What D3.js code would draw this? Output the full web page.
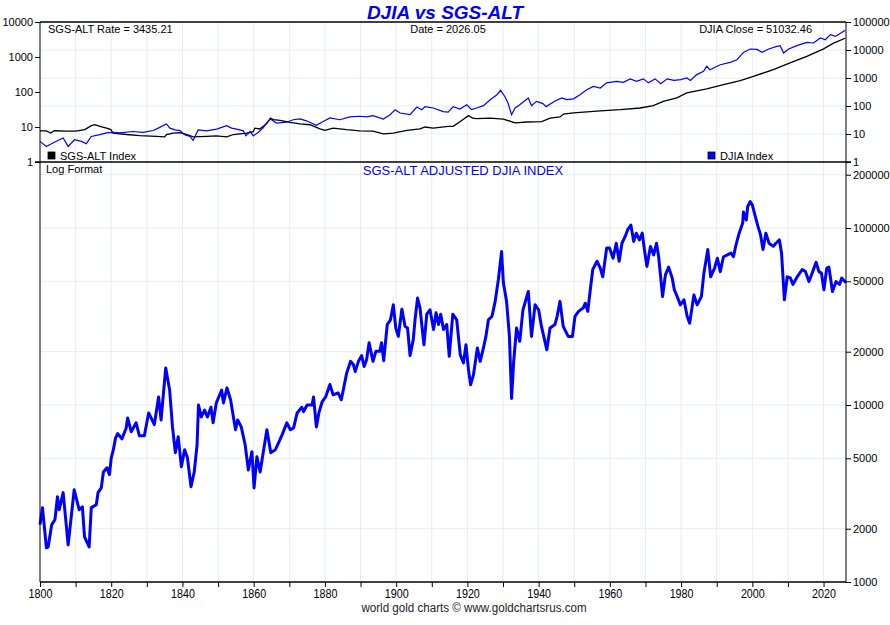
<!DOCTYPE html>
<html>
<head>
<meta charset="utf-8">
<script src="https://cdn.jsdelivr.net/npm/d3@7"></script>
<style>
    body { margin: 0; background: #fff; }
    svg { display: block; font-family: "Liberation Sans", Arial, sans-serif; }
    .axis text { font-size: 11px; fill: #000; }
    .axis path, .axis line { stroke: #000; }
    .xaxis text { font-size: 12.5px; }
</style>
</head>
<body>
<div id="chart"></div>
<script>
// SGS-ALT index (top panel, left axis)
const sgsAlt = [
    [1800, 7.8], [1801.8, 7.7], [1803, 6.7], [1804, 7.8], [1807.4, 7.6], [1810, 7.6], [1812.6, 8.4],
    [1814.4, 10.9], [1815.4, 11.6], [1816.8, 10.4], [1818.7, 9.3], [1819.9, 8.4], [1820.5, 6.7],
    [1824.3, 6.1], [1828, 5.7], [1832.7, 5.4], [1835, 5.2], [1835.5, 6.1], [1837.4, 6.7], [1839.3, 6.9],
    [1841.3, 6.1], [1843, 5.2], [1846.8, 5.4], [1849.5, 5.6], [1852.4, 5.2], [1854.3, 6.1], [1858, 6.7],
    [1859.9, 7.4], [1860.3, 9.3], [1861.7, 8.8], [1862.6, 10.4], [1863.6, 12.3], [1864.7, 18],
    [1865.5, 16.2], [1867.4, 15.4], [1870.2, 13.5], [1873, 12.3], [1875.8, 11.6], [1878.6, 8.8],
    [1880, 8.0], [1882.3, 9.3], [1886.1, 8.4], [1889.8, 7.8], [1893.5, 7.6], [1896.4, 6.4], [1899.2, 6.7],
    [1903, 8.0], [1906.7, 8.8], [1908.1, 10], [1910.4, 9.3], [1914.6, 10.4], [1916, 10.4], [1917.9, 14.2],
    [1920.3, 21.1], [1921.5, 17.8], [1922.6, 17.3], [1926.4, 18], [1930.1, 16.9], [1933.4, 13.1],
    [1936.7, 13.9], [1940.9, 14.2], [1943.2, 18], [1946, 19.4], [1947, 23.5], [1949.8, 25.3],
    [1951.7, 26.2], [1957.3, 29], [1962.9, 31.3], [1968.5, 34.9], [1972.2, 40.8], [1975, 54.2],
    [1978.8, 67.7], [1981.6, 94], [1987.2, 122], [1991.9, 162], [1996.6, 210], [2000.3, 280],
    [2005.9, 434], [2010.6, 675], [2015.3, 1040], [2020, 1700], [2022.8, 2500], [2026.05, 3435]
];

// DJIA index (top panel, right axis)
const djia = [
    [1800, 5.45], [1801.8, 3.6], [1803.6, 4.8], [1806.5, 7.2], [1807.9, 3.6], [1809.7, 6.25], [1811.6, 5.45],
    [1813, 4.5], [1814.4, 8.2], [1816.8, 9.5], [1818.7, 10.9], [1820.5, 11.5], [1822.4, 10.9], [1826.1, 12.3],
    [1828.9, 11.5], [1831.8, 13.3], [1833.2, 16.2], [1835.5, 22.9], [1836.5, 16.2], [1837.9, 14], [1839.3, 13.3],
    [1840.6, 9.5], [1842.1, 8.2], [1843, 5.9], [1844.4, 14], [1846.8, 13], [1849.6, 15], [1852.4, 19.7],
    [1853.8, 16.2], [1855.2, 15], [1857.1, 13], [1857.8, 8.6], [1859, 12.3], [1859.9, 8.6], [1861.3, 11.5],
    [1862.6, 16.2], [1863.6, 24.6], [1864.7, 34.4], [1866.4, 24.6], [1869.2, 26.4], [1871.1, 32.3],
    [1873, 34.4], [1874.8, 29.6], [1877.6, 20.6], [1879.5, 28], [1881.4, 37.3], [1884.2, 32.3], [1887, 40.6],
    [1889.8, 43], [1891.7, 40.6], [1893.5, 45.5], [1896.4, 34.4], [1898.3, 49], [1899.7, 74], [1901.1, 56],
    [1903.9, 49], [1905.8, 92], [1907.2, 74], [1908.1, 95], [1910.4, 85], [1913.2, 63], [1914.6, 60],
    [1916, 95], [1917.9, 78], [1919.8, 111], [1921.2, 74], [1922.6, 85], [1924.5, 103], [1926.4, 168],
    [1928.3, 253], [1929.3, 362], [1930.5, 219], [1931.4, 127], [1932.4, 49], [1933.4, 85], [1934.7, 111],
    [1937.1, 194], [1938, 103], [1939.4, 147], [1941.2, 122], [1942.1, 95], [1944.5, 147], [1946.5, 194],
    [1947.9, 168], [1949.8, 180], [1951.6, 253], [1953.5, 383], [1955.4, 502], [1957.3, 440], [1959.1, 670],
    [1961.9, 756], [1963.8, 700], [1965.7, 930], [1967.5, 756], [1969.4, 930], [1970.8, 670], [1972.7, 930],
    [1974.3, 630], [1976.1, 930], [1978, 820], [1979.9, 870], [1981.6, 1000], [1982.6, 810], [1984.4, 1320],
    [1986.3, 1730], [1987.2, 2610], [1988.1, 1980], [1991, 2970], [1993.8, 3600], [1995.7, 4500],
    [1997.5, 8220], [1999.4, 10860], [2001.3, 10500], [2002.7, 8220], [2004.6, 10860], [2006.9, 13470],
    [2007.8, 14300], [2008.8, 7800], [2010.2, 10860], [2012.5, 14300], [2015.3, 18700], [2017.2, 17800],
    [2019.1, 26800], [2020.5, 23300], [2021.9, 35200], [2023.3, 30600], [2025.1, 42500], [2026.05, 51000]
];

// SGS-ALT adjusted DJIA (bottom panel)
const adjusted = [
    [1800, 2110], [1800.7, 2630], [1801.8, 1560], [1802.3, 1580], [1803.3, 2110], [1804.2, 2250],
    [1804.9, 3030], [1805.4, 2560], [1806.5, 3200], [1807.9, 1620], [1809.6, 3320], [1811, 2560],
    [1811.9, 2660], [1812.5, 1800], [1813.8, 1580], [1814.4, 2630], [1815.8, 2730], [1816.3, 3200],
    [1817.2, 3400], [1817.8, 4180], [1818.8, 4420], [1819.5, 4040], [1820, 5030], [1820.6, 5590],
    [1821.2, 6500], [1821.8, 6890], [1823, 6440], [1824.2, 7420], [1824.6, 8450], [1825.6, 7070],
    [1827, 7930], [1827.9, 6700], [1829.3, 6700], [1830.5, 9020], [1831.2, 8450], [1832.1, 7750],
    [1833.3, 11100], [1834, 8230], [1835.3, 16200], [1836.4, 12150], [1837.2, 7520], [1838, 5380],
    [1838.8, 6610], [1839.7, 4480], [1840.6, 5590], [1841.4, 5030], [1842.4, 3450], [1843.3, 4180],
    [1844.1, 5960], [1844.5, 10000], [1845.3, 8560], [1846.2, 9360], [1847, 8560], [1848, 9710],
    [1848.6, 7930], [1849.5, 10260], [1851, 12150], [1851.5, 10260], [1852.5, 12500], [1853.5, 10700],
    [1854.9, 7250], [1855.5, 8230], [1856.5, 7520], [1857.6, 5960], [1858.5, 4290], [1859.5, 5450],
    [1860.1, 3400], [1860.9, 5100], [1861.8, 4180], [1862.8, 5590], [1863.7, 7250], [1864.8, 5380],
    [1866.1, 5590], [1867, 6130], [1868, 6800], [1869.3, 7930], [1870.3, 7250], [1871.2, 7420],
    [1872.2, 9020], [1873.5, 9710], [1874, 9180], [1875, 10000], [1876.4, 10000], [1876.8, 11100],
    [1877.6, 7520], [1878.3, 9020], [1879.2, 10400], [1880.2, 11100], [1881.4, 13050], [1882.3, 11400],
    [1883.7, 11700], [1884.6, 10700], [1886.1, 15130], [1887.2, 17650], [1888, 16900], [1888.5, 15430],
    [1889.4, 17650], [1890.3, 19000], [1891, 16500], [1891.7, 18000], [1892.4, 22450], [1893.5, 17650],
    [1894.3, 20100], [1895.4, 20100], [1895.9, 22450], [1896.5, 17800], [1897.5, 28500], [1898.4, 30300],
    [1899.2, 36800], [1899.9, 27200], [1900.6, 24400], [1901.6, 34800], [1902.5, 27800], [1903.2, 27200],
    [1903.9, 19000], [1904.8, 23400], [1905.3, 30300], [1906, 40200], [1906.7, 35300], [1907.8, 21900],
    [1908.6, 32600], [1909.5, 34500], [1910.5, 26700], [1911.2, 33200], [1911.9, 28500], [1912.5, 32600],
    [1913.3, 26700], [1914.2, 28500], [1914.9, 18850], [1915.9, 32600], [1917, 30300], [1918, 19200],
    [1918.9, 17300], [1919.6, 21900], [1920.3, 15850], [1920.9, 13000], [1921.7, 14800], [1922.8, 21000],
    [1923.6, 17650], [1924.5, 21000], [1925.2, 24400], [1925.9, 30300], [1926.9, 31700], [1927.8, 38500],
    [1928.7, 51150], [1929.6, 73700], [1930.1, 49000], [1931, 38500], [1931.8, 24400], [1932.4, 10900],
    [1933, 17650], [1933.8, 27200], [1934.7, 22900], [1935.6, 34500], [1937.1, 43800], [1938, 24400],
    [1939, 36800], [1940, 34500], [1940.8, 27800], [1942.3, 20500], [1943.2, 27200], [1944.6, 28500],
    [1945.2, 31700], [1946, 38500], [1946.9, 27800], [1948.3, 24400], [1949.5, 24400], [1950.2, 31700],
    [1951.2, 33800], [1952.5, 35300], [1953.1, 37600], [1953.8, 33800], [1954.5, 44800], [1955.2, 58300],
    [1956.4, 64900], [1957.3, 59400], [1958, 53000], [1959.1, 77000], [1959.9, 77000], [1960.9, 67500],
    [1961.8, 82000], [1962.6, 64900], [1963.4, 82000], [1964.3, 89600], [1965, 97800], [1965.9, 104000],
    [1966.7, 84000], [1967.4, 93500], [1968.3, 85600], [1969.1, 93500], [1969.7, 75500], [1970.4, 60700],
    [1971.4, 78700], [1972.3, 70500], [1973.1, 82000], [1973.7, 68800], [1974.8, 41000], [1975.6, 54400],
    [1976.5, 60100], [1977.5, 52200], [1978.1, 44800], [1978.9, 41000], [1979.8, 36800], [1980.8, 39300],
    [1981.7, 31700], [1982.4, 29000], [1983.6, 41800], [1984.5, 36800], [1985.7, 41000], [1986.4, 55600],
    [1987.5, 75500], [1988.3, 53000], [1989.4, 59400], [1990.2, 67500], [1991, 56700], [1991.9, 68800],
    [1993, 70500], [1994, 72200], [1994.7, 68800], [1995.4, 80100], [1996.3, 93500], [1997.3, 106600],
    [1997.5, 123300], [1998.3, 111000], [1998.7, 132300], [1999.4, 141000], [2000, 135000], [2000.7, 119000],
    [2001.6, 101800], [2002.3, 91700], [2003, 75500], [2003.8, 93500], [2004.7, 82000], [2005.9, 78700],
    [2006.6, 82000], [2007.6, 85600], [2008.2, 72200], [2009, 39300], [2009.8, 53000], [2010.7, 52200],
    [2011.4, 48000], [2012.6, 53000], [2014, 58300], [2014.9, 56700], [2015.9, 49800], [2016.8, 55600],
    [2017.9, 64000], [2018.7, 56700], [2019.4, 55600], [2020.1, 44800], [2020.9, 59400], [2021.5, 60100],
    [2022.5, 43800], [2023.5, 49800], [2024.5, 48000], [2025.1, 52200], [2026.3, 49000]
];

// Tick values
const leftTopTicks = [1, 10, 100, 1000, 10000];
const rightTopTicks = [1, 10, 100, 1000, 10000, 100000];
const bottomTicks = [1000, 2000, 5000, 10000, 20000, 50000, 100000, 200000];
const yearLabels = [1800, 1820, 1840, 1860, 1880, 1900, 1920, 1940, 1960, 1980, 2000, 2020];
const yearTicks = d3.range(1800, 2030, 10);

const W = 890, H = 625;
const left = 40, right = 846;
const topY = 22, midY = 162, botY = 582;
const gridColor = "#e3eef7";
const blue = "#0000ff";

const svg = d3.select("#chart")
    .append("svg")
    .attr("width", W)
    .attr("height", H);

// Scales
const x = d3.scaleLinear().domain([1800, 2026.3]).range([left, right]);
const yTopL = d3.scaleLog().domain([1, 10000]).range([midY, topY]);
const yTopR = d3.scaleLog().domain([1, 100000]).range([midY, topY]);
const yBot = d3.scaleLog().domain([1000, Math.pow(10, 3 + (botY - midY) / 177)]).range([botY, midY]);

// Gridlines
const grid = svg.append("g").attr("stroke", gridColor).attr("stroke-width", 1);
grid.selectAll(".vgrid")
    .data(yearTicks.filter(d => d > 1800))
    .enter().append("line")
    .attr("x1", d => x(d)).attr("x2", d => x(d))
    .attr("y1", topY).attr("y2", botY);
grid.selectAll(".tgrid")
    .data(rightTopTicks.slice(1, -1))
    .enter().append("line")
    .attr("x1", left).attr("x2", right)
    .attr("y1", d => yTopR(d)).attr("y2", d => yTopR(d));
grid.selectAll(".bgrid")
    .data(bottomTicks.slice(1))
    .enter().append("line")
    .attr("x1", left).attr("x2", right)
    .attr("y1", d => yBot(d)).attr("y2", d => yBot(d));

// Lines
const line = (ys) => d3.line().x(d => x(d[0])).y(d => ys(d[1]));

svg.append("path")
    .datum(sgsAlt)
    .attr("fill", "none")
    .attr("stroke", "#000")
    .attr("stroke-width", 1.3)
    .attr("d", line(yTopL));

svg.append("path")
    .datum(djia)
    .attr("fill", "none")
    .attr("stroke", blue)
    .attr("stroke-width", 1.2)
    .attr("d", line(yTopR));

svg.append("path")
    .datum(adjusted)
    .attr("fill", "none")
    .attr("stroke", blue)
    .attr("stroke-width", 3)
    .attr("stroke-linejoin", "round")
    .attr("d", line(yBot));

// Frame
const frame = svg.append("g").attr("stroke", "#000").attr("stroke-width", 1.5);
frame.append("line").attr("x1", left).attr("x2", right).attr("y1", topY).attr("y2", topY);
frame.append("line").attr("x1", left - 5).attr("x2", right + 5).attr("y1", midY).attr("y2", midY);

// Axes
svg.append("g")
    .attr("class", "axis")
    .attr("transform", `translate(${left},0)`)
    .call(d3.axisLeft(yTopL).tickValues(leftTopTicks).tickFormat(d3.format("d")).tickSize(5).tickPadding(2))
    .call(g => g.select(".domain").attr("d", `M0,${topY}V${botY}`));

svg.append("g")
    .attr("class", "axis")
    .attr("transform", `translate(${right},0)`)
    .call(d3.axisRight(yTopR).tickValues(rightTopTicks).tickFormat(d3.format("d")).tickSize(5).tickPadding(2))
    .call(g => g.select(".domain").attr("d", `M0,${topY}V${botY}`));

svg.append("g")
    .attr("class", "axis")
    .attr("transform", `translate(${right},0)`)
    .call(d3.axisRight(yBot).tickValues(bottomTicks).tickFormat(d3.format("d")).tickSize(5).tickPadding(2))
    .call(g => g.select(".domain").remove());

// Year axis, labels squeezed to look condensed like the original
svg.append("g")
    .attr("class", "axis xaxis")
    .attr("transform", `translate(0,${botY})`)
    .call(d3.axisBottom(x).tickValues(yearTicks).tickSize(5).tickPadding(2)
        .tickFormat(d => yearLabels.includes(d) ? d : ""))
    .call(g => g.select(".domain").attr("d", `M${left},0H${right}`).attr("stroke-width", 1.5))
    .call(g => g.selectAll(".tick text").attr("transform", "scale(0.86,1)"));

// Texts
svg.append("text")
    .attr("x", 445).attr("y", 19)
    .attr("text-anchor", "middle")
    .style("font-size", "19px").style("font-weight", "bold").style("font-style", "italic")
    .attr("fill", blue)
    .text("DJIA vs SGS-ALT");

const info = svg.append("g").style("font-size", "11px").attr("fill", "#000");
info.append("text").attr("x", 48).attr("y", 33).text("SGS-ALT Rate = 3435.21");
info.append("text").attr("x", 448).attr("y", 33).attr("text-anchor", "middle").text("Date = 2026.05");
info.append("text").attr("x", 812).attr("y", 33).attr("text-anchor", "end").text("DJIA Close = 51032.46");
info.append("text").attr("x", 46).attr("y", 173).text("Log Format");

// Legend
const legendItems = [
    { label: "SGS-ALT Index", color: "#000", x: 48 },
    { label: "DJIA Index", color: blue, x: 708 }
];
const legend = svg.selectAll(".legend")
    .data(legendItems)
    .enter().append("g")
    .attr("class", "legend")
    .attr("transform", d => `translate(${d.x},152)`);
legend.append("rect")
    .attr("width", 7).attr("height", 7)
    .attr("fill", d => d.color)
    .attr("stroke", "#000").attr("stroke-width", 0.8);
legend.append("text")
    .attr("x", 12).attr("y", 8)
    .style("font-size", "11px")
    .text(d => d.label);

svg.append("text")
    .attr("x", 463).attr("y", 175)
    .attr("text-anchor", "middle")
    .style("font-size", "13px")
    .attr("fill", blue)
    .text("SGS-ALT ADJUSTED DJIA INDEX");

svg.append("g")
    .attr("transform", "translate(474,612) scale(0.86,1)")
    .append("text")
    .attr("text-anchor", "middle")
    .style("font-size", "13.5px")
    .attr("fill", "#222")
    .text("world gold charts © www.goldchartsrus.com");
</script>
</body>
</html>
